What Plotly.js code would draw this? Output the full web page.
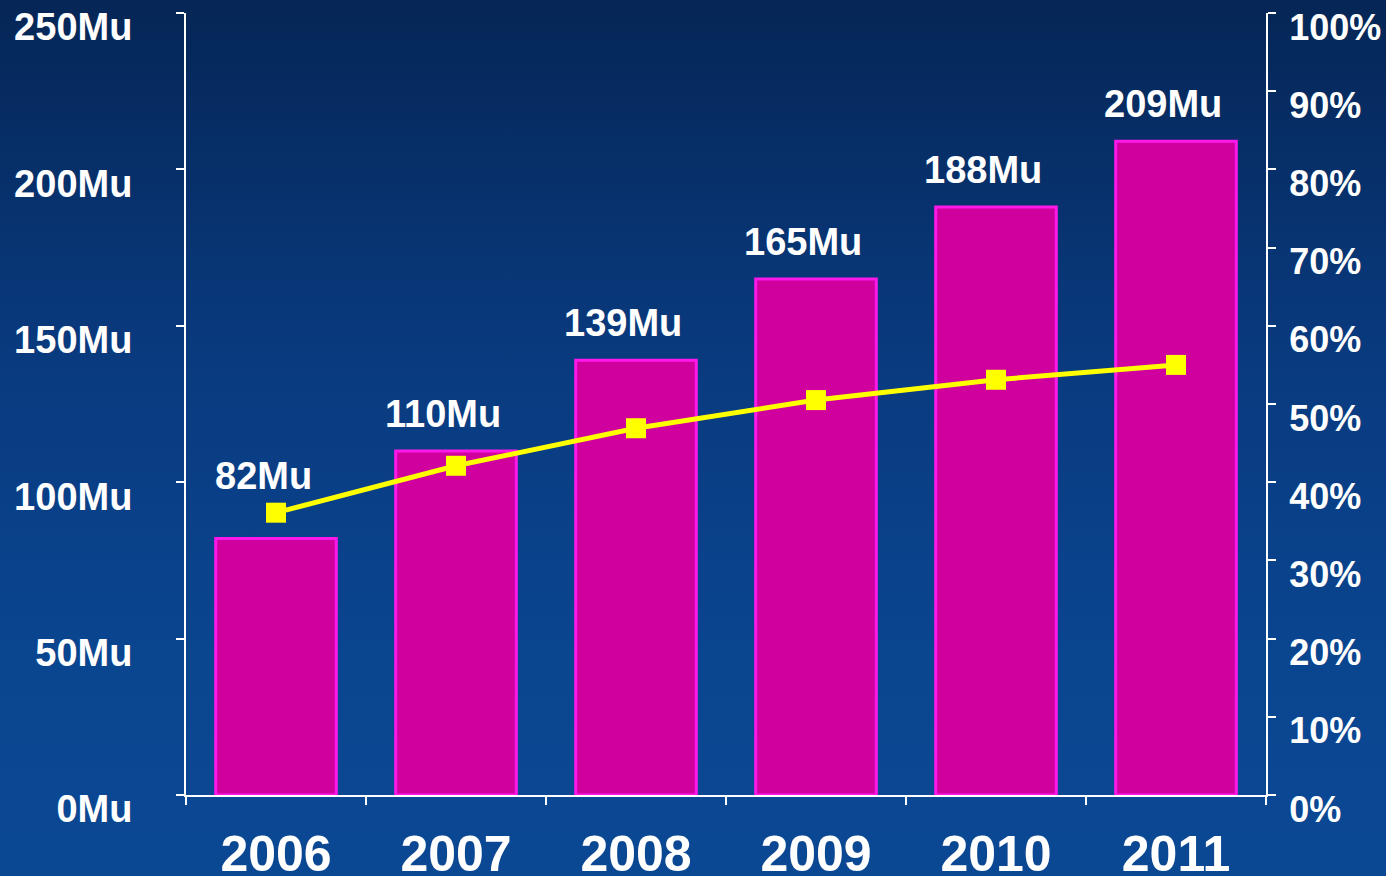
<!DOCTYPE html>
<html>
<head>
<meta charset="utf-8">
<script src="https://cdn.plot.ly/plotly-3.0.1.min.js"></script>
<style>
  html, body { margin:0; padding:0; width:1386px; height:876px; overflow:hidden;
    background: linear-gradient(to bottom, #052656 0%, #093a7e 40%, #0a4590 75%, #0b4893 100%); }
  #chart { width:1386px; height:876px; }
</style>
</head>
<body>
<div id="chart"></div>
<script>
// ---- data ----
const years = ['2006', '2007', '2008', '2009', '2010', '2011'];
const unitsMu = [82, 110, 139, 165, 188, 209];
const sharePct = [36.1, 42.1, 46.9, 50.5, 53.1, 55.0];
const leftTickSuffix = 'Mu';
const rightTickSuffix = '%';

const FONT = 'Liberation Sans, Arial, sans-serif';
const white = '#ffffff';

const bars = {
  type: 'bar', x: years, y: unitsMu, width: 0.67,
  marker: { color: '#cf009d', line: { color: '#ff18ea', width: 3 } },
  hoverinfo: 'skip'
};
const line = {
  type: 'scatter', mode: 'lines+markers', x: years, y: sharePct, yaxis: 'y2',
  line: { color: '#ffff00', width: 5 },
  marker: { symbol: 'square', size: 20, color: '#ffff00' },
  hoverinfo: 'skip'
};

// Labels sit above the higher of the bar top and the line point (line value mapped onto the left scale)
const annotations = years.map((yr, i) => ({
  x: i, xref: 'x', yref: 'y',
  y: Math.max(unitsMu[i], sharePct[i] * 250 / 100),
  yanchor: 'bottom', yshift: 14, xshift: -13,
  text: '<b>' + unitsMu[i] + 'Mu</b>', showarrow: false,
  font: { family: FONT, size: 38, color: white }
}));

const layout = {
  width: 1386, height: 876,
  margin: { l: 186, r: 120, t: 13, b: 81 },
  paper_bgcolor: 'rgba(0,0,0,0)', plot_bgcolor: 'rgba(0,0,0,0)',
  showlegend: false,
  xaxis: {
    type: 'category', range: [-0.5, 5.5], tickson: 'boundaries',
    ticks: 'outside', ticklen: 8, tickwidth: 2, tickcolor: white,
    showline: true, linecolor: white, linewidth: 2, showgrid: false, zeroline: false,
    tickfont: { family: FONT, size: 50, color: white, weight: 'bold' },
    ticklabelstandoff: 14
  },
  yaxis: {
    range: [0, 250], dtick: 50, ticksuffix: leftTickSuffix,
    ticks: 'outside', ticklen: 8, tickwidth: 2, tickcolor: white,
    showline: true, linecolor: white, linewidth: 2, showgrid: false, zeroline: false,
    tickfont: { family: FONT, size: 38, color: white, weight: 'bold' },
    ticklabelshift: 14, ticklabelstandoff: 36
  },
  yaxis2: {
    range: [0, 100], dtick: 10, ticksuffix: rightTickSuffix,
    overlaying: 'y', side: 'right',
    ticks: 'outside', ticklen: 8, tickwidth: 2, tickcolor: white,
    showline: true, linecolor: white, linewidth: 2, showgrid: false, zeroline: false,
    tickfont: { family: FONT, size: 36, color: white, weight: 'bold' },
    ticklabelshift: 14, ticklabelstandoff: 6
  },
  yaxis3: {
    range: [0, 100], dtick: 10, overlaying: 'y', side: 'right',
    ticks: 'inside', ticklen: 8, tickwidth: 2, tickcolor: white,
    showticklabels: false, showline: false, showgrid: false, zeroline: false
  },
  annotations: annotations
};

Plotly.newPlot('chart', [bars, line], layout, { displayModeBar: false, staticPlot: true });
</script>
</body>
</html>
